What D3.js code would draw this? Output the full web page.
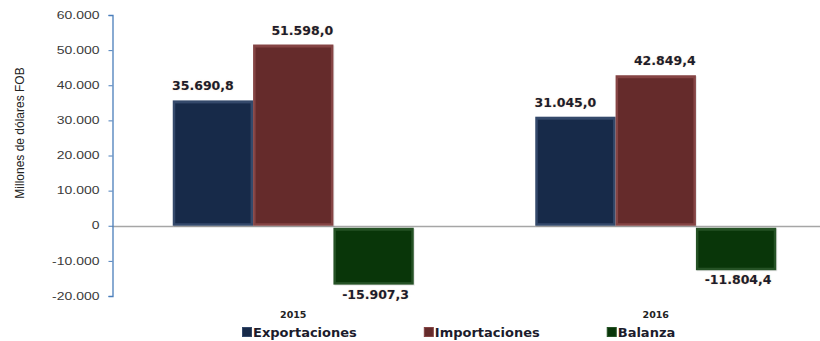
<!DOCTYPE html>
<html>
<head>
<meta charset="utf-8">
<script src="https://cdn.jsdelivr.net/npm/d3@7"></script>
<style>
  html, body { margin: 0; padding: 0; background: #fff; }
  svg { display: block; }
</style>
</head>
<body>
<div id="chart"></div>
<script>
// ---- data ----
const categories = ["2015", "2016"];
const seriesNames = ["Exportaciones", "Importaciones", "Balanza"];
const exportaciones = [35690.8, 31045.0];
const importaciones = [51598.0, 42849.4];
const balanza = [-15907.3, -11804.4];
const valueLabels = [["35.690,8", "31.045,0"], ["51.598,0", "42.849,4"], ["-15.907,3", "-11.804,4"]];
const yTicks = [-20000, -10000, 0, 10000, 20000, 30000, 40000, 50000, 60000];
const yTickLabels = ["-20.000", "-10.000", "0", "10.000", "20.000", "30.000", "40.000", "50.000", "60.000"];
const yTitle = "Millones de dólares FOB";

const seriesValues = [exportaciones, importaciones, balanza];
const colors = { Exportaciones: "#172a49", Importaciones: "#652b2b", Balanza: "#093609" };
const edgeColors = { Exportaciones: "#34496b", Importaciones: "#854444", Balanza: "#255225" };
const labelShift = { Exportaciones: -10, Importaciones: 9, Balanza: 2 };

const W = 820, H = 341;
const svg = d3.select("#chart").append("svg").attr("width", W).attr("height", H);

const y = d3.scaleLinear().domain([-20000, 60000]).range([296, 15]);
const x0 = d3.scalePoint().domain(categories).range([112, 837]).padding(0.5);
const x1 = d3.scaleBand().domain(seriesNames).range([-120.5, 120.5]).padding(0);

// zero line
svg.append("line")
  .attr("x1", 112).attr("x2", W)
  .attr("y1", Math.round(y(0)) + 0.5).attr("y2", Math.round(y(0)) + 0.5)
  .attr("stroke", "#a6a6a6").attr("stroke-width", 1.5);

// bars
const data = [];
seriesNames.forEach((s, si) => {
  categories.forEach((c, ci) => {
    data.push({ s, si, c, ci, v: seriesValues[si][ci], label: valueLabels[si][ci] });
  });
});

const barG = svg.append("g");
data.forEach(d => {
  const bx = x0(d.c) + x1(d.s);
  const bw = x1.bandwidth();
  const top = d.v >= 0 ? y(d.v) : y(0) + 2;
  const bot = d.v >= 0 ? y(0) : y(d.v) + 3;
  const h = bot - top;
  const g = barG.append("g");
  g.append("rect").attr("x", bx + 1).attr("y", top + 1).attr("width", bw).attr("height", h)
    .attr("fill", "#000").attr("opacity", 0.1);
  g.append("rect").attr("x", bx).attr("y", top).attr("width", bw).attr("height", h)
    .attr("fill", edgeColors[d.s]);
  g.append("rect").attr("x", bx + 2.5).attr("y", top + 3).attr("width", bw - 5).attr("height", Math.max(0, h - 5.5))
    .attr("fill", colors[d.s]);
});

// value labels
svg.append("g").selectAll("text").data(data).join("text")
  .attr("x", d => x0(d.c) + x1(d.s) + x1.bandwidth() / 2 + labelShift[d.s])
  .attr("y", d => d.v >= 0 ? y(d.v) - 10 : y(d.v) + 17)
  .attr("text-anchor", "middle")
  .attr("font-family", "DejaVu Sans, Verdana, sans-serif")
  .attr("font-weight", "bold")
  .attr("font-size", "12.5px")
  .attr("fill", "#1c1c2c")
  .style("text-shadow", "0 0 1.5px rgba(230,170,110,0.55)")
  .text(d => d.label);

// y axis
const yAxis = d3.axisLeft(y).tickValues(yTicks)
  .tickFormat((d, i) => yTickLabels[i]).tickSize(4).tickPadding(8);
const ag = svg.append("g").attr("transform", "translate(112.5,0)").call(yAxis);
ag.select(".domain").attr("stroke", "#4a7ebb").attr("stroke-width", 1.3);
ag.selectAll(".tick line").attr("stroke", "#4a7ebb");
ag.selectAll(".tick text")
  .attr("x", null)
  .attr("transform", "translate(-13,0) scale(1.4,1)")
  .attr("font-family", "Liberation Sans, Arial, sans-serif")
  .attr("font-size", "10px")
  .attr("fill", "#3a3a3a");

// y title
svg.append("text")
  .attr("transform", "translate(24,133) rotate(-90)")
  .attr("text-anchor", "middle")
  .attr("font-family", "Liberation Sans, Arial, sans-serif")
  .attr("font-size", "12px")
  .attr("fill", "#222")
  .text(yTitle);

// category labels
svg.append("g").selectAll("text").data(categories).join("text")
  .attr("x", d => x0(d))
  .attr("y", 318)
  .attr("text-anchor", "middle")
  .attr("font-family", "DejaVu Sans, Verdana, sans-serif")
  .attr("font-weight", "bold")
  .attr("font-size", "9.5px")
  .attr("fill", "#222")
  .text(d => d);

// legend
const lg = svg.append("g").attr("transform", "translate(242,0)");
let lx = 0;
seriesNames.forEach(s => {
  const ig = lg.append("g").attr("transform", `translate(${lx},0)`);
  ig.append("rect").attr("x", 0.5).attr("y", 327.5).attr("width", 9).attr("height", 9)
    .attr("fill", colors[s]).attr("stroke", edgeColors[s]).attr("stroke-width", 1);
  const t = ig.append("text").attr("x", 11).attr("y", 337)
    .attr("font-family", "DejaVu Sans, Verdana, sans-serif")
    .attr("font-weight", "bold").attr("font-size", "13px").attr("fill", "#1c1c2c")
    .text(s);
  const w = 11 + t.node().getComputedTextLength();
  lx += w + 67;
});
</script>
</body>
</html>
